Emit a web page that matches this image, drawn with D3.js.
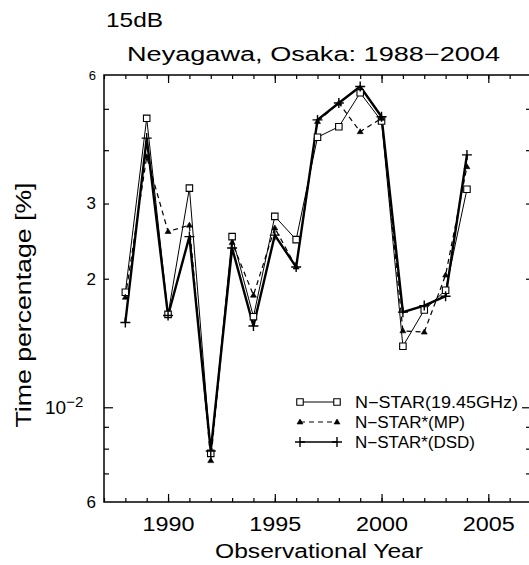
<!DOCTYPE html>
<html>
<head>
<meta charset="utf-8">
<script src="https://cdn.jsdelivr.net/npm/d3@7"></script>
<style>
  body { margin: 0; background: #fff; }
  text { font-family: "Liberation Sans", "DejaVu Sans", sans-serif; fill: #000; }
</style>
</head>
<body>
<div id="chart"></div>
<script>
// data (time percentage, % of year)
let years = [1988, 1989, 1990, 1991, 1992, 1993, 1994, 1995, 1996, 1997, 1998, 1999, 2000, 2001, 2002, 2003, 2004];
let nstar = [0.0186, 0.0475, 0.0165, 0.0326, 0.0078, 0.0251, 0.0163, 0.0280, 0.0247, 0.0429, 0.0454, 0.0545, 0.0468, 0.0139, 0.0169, 0.0188, 0.0324];
let mp    = [0.0181, 0.0386, 0.0258, 0.0267, 0.0075, 0.0243, 0.0183, 0.0263, 0.0213, 0.0467, 0.0516, 0.0442, 0.0475, 0.0151, 0.0150, 0.0204, 0.0366];
let dsd   = [0.0158, 0.0427, 0.0164, 0.0251, 0.0079, 0.0236, 0.0155, 0.0253, 0.0213, 0.0471, 0.0516, 0.0564, 0.0479, 0.0167, 0.0173, 0.0182, 0.0390];

let seriesNames = ["N\u2212STAR(19.45GHz)", "N\u2212STAR*(MP)", "N\u2212STAR*(DSD)"];
let xMajorTicks = [1990, 1995, 2000, 2005];
let yMinorTicks = [0.007, 0.008, 0.009, 0.02, 0.03, 0.04, 0.05];
let yLabelValues = [0.006, 0.01, 0.02, 0.03, 0.06];
let yLabelText = ["6", "10", "2", "3", "6"];

let width = 529,
    height = 565,
    plotLeft = 104, plotRight = 531, plotTop = 75, plotBottom = 502;

let x = d3.scaleLinear().domain([1987, 2007]).range([plotLeft, plotRight]);
let y = d3.scaleLog().domain([0.006, 0.06]).range([plotBottom, plotTop]);

let svg = d3.select("#chart").append("svg")
    .attr("width", width)
    .attr("height", height);

// stretch text to the wide plotter-font widths of the original
function fit(sel, len) {
  sel.attr("textLength", len).attr("lengthAdjust", "spacingAndGlyphs");
}

// titles
svg.append("text")
    .attr("x", 106).attr("y", 27)
    .attr("font-size", 21)
    .call(fit, 57)
    .text("15dB");

svg.append("text")
    .attr("x", 127).attr("y", 61)
    .attr("font-size", 20)
    .call(fit, 373)
    .text("Neyagawa, Osaka:  1988\u22122004");

// frame
svg.append("rect")
    .attr("x", plotLeft).attr("y", plotTop)
    .attr("width", plotRight - plotLeft).attr("height", plotBottom - plotTop)
    .attr("fill", "none").attr("stroke", "#000").attr("stroke-width", 1.5);

function styleAxis(g) {
  g.select(".domain").remove();
  g.selectAll(".tick line").attr("stroke", "#000").attr("stroke-width", 1.2);
}

// x axes (ticks point inward)
svg.append("g").attr("transform", "translate(0," + plotBottom + ")")
    .call(d3.axisBottom(x).tickValues(d3.range(1987, 2008)).tickSize(-4).tickFormat(""))
    .call(styleAxis);
svg.append("g").attr("transform", "translate(0," + plotBottom + ")")
    .call(d3.axisBottom(x).tickValues(xMajorTicks).tickSize(-8).tickPadding(15).tickFormat(d3.format("d")))
    .call(styleAxis)
    .selectAll("text")
    .attr("font-size", 19.5)
    .attr("font-family", "Liberation Sans, DejaVu Sans, sans-serif")
    .call(fit, 52);
svg.append("g").attr("transform", "translate(0," + plotTop + ")")
    .call(d3.axisTop(x).tickValues(d3.range(1987, 2008)).tickSize(-4).tickFormat(""))
    .call(styleAxis);
svg.append("g").attr("transform", "translate(0," + plotTop + ")")
    .call(d3.axisTop(x).tickValues(xMajorTicks).tickSize(-8).tickFormat(""))
    .call(styleAxis);

// y axes
svg.append("g").attr("transform", "translate(" + plotLeft + ",0)")
    .call(d3.axisLeft(y).tickValues(yMinorTicks).tickSize(-5).tickFormat(""))
    .call(styleAxis);
svg.append("g").attr("transform", "translate(" + plotLeft + ",0)")
    .call(d3.axisLeft(y).tickValues([0.01]).tickSize(-9).tickFormat(""))
    .call(styleAxis);
svg.append("g").attr("transform", "translate(" + plotRight + ",0)")
    .call(d3.axisRight(y).tickValues(yMinorTicks).tickSize(-5).tickFormat(""))
    .call(styleAxis);
svg.append("g").attr("transform", "translate(" + plotRight + ",0)")
    .call(d3.axisRight(y).tickValues([0.01]).tickSize(-9).tickFormat(""))
    .call(styleAxis);

let yLab = svg.append("g").attr("transform", "translate(" + plotLeft + ",0)")
    .call(d3.axisLeft(y).tickValues(yLabelValues).tickSize(0).tickPadding(8)
      .tickFormat((d, i) => yLabelText[i]))
    .call(styleAxis);
yLab.selectAll("text")
    .attr("font-size", (d, i) => i === yLabelValues.length - 1 ? 13 : 17)
    .attr("font-family", "Liberation Sans, DejaVu Sans, sans-serif");
yLab.selectAll("text").filter((d) => d === 0.01)
    .attr("x", -59)
    .attr("font-size", 19)
    .attr("text-anchor", "start")
    .append("tspan")
    .attr("dy", "-0.45em")
    .attr("font-size", 15)
    .text("\u22122");

// axis titles
svg.append("text")
    .attr("transform", "translate(31,305) rotate(-90)")
    .attr("text-anchor", "middle")
    .attr("font-size", 22)
    .call(fit, 245)
    .text("Time percentage [%]");

svg.append("text")
    .attr("x", 319).attr("y", 558)
    .attr("text-anchor", "middle")
    .attr("font-size", 20)
    .call(fit, 208)
    .text("Observational Year");

// lines
let line = d3.line()
    .x((d, i) => x(years[i]))
    .y((d) => y(d));

let plot = svg.append("g");

plot.append("path").datum(nstar)
    .attr("d", line).attr("fill", "none")
    .attr("stroke", "#000").attr("stroke-width", 1);
plot.append("path").datum(mp)
    .attr("d", line).attr("fill", "none")
    .attr("stroke", "#000").attr("stroke-width", 1.2)
    .attr("stroke-dasharray", "5,4");
plot.append("path").datum(dsd)
    .attr("d", line).attr("fill", "none")
    .attr("stroke", "#000").attr("stroke-width", 2.4);

let squarePath = d3.symbol().type(d3.symbolSquare).size(42);
let trianglePath = "M-3,2L3,2L0,-3Z";
let plusPath = "M-5,0H5M0,-5V5";

function styleMarker(sel, kind) {
  if (kind === "square") {
    sel.attr("d", squarePath).attr("fill", "#fff").attr("stroke", "#000").attr("stroke-width", 1.1);
  } else if (kind === "triangle") {
    sel.attr("d", trianglePath).attr("fill", "#000").attr("stroke", "#000").attr("stroke-width", 0.6);
  } else {
    sel.attr("d", plusPath).attr("fill", "none").attr("stroke", "#000").attr("stroke-width", 1.4);
  }
}

function drawMarkers(g, data, kind) {
  let sel = g.selectAll(null).data(data).enter().append("path")
      .attr("transform", (d, i) => "translate(" + x(years[i]) + "," + y(d) + ")");
  styleMarker(sel, kind);
}

drawMarkers(plot, nstar, "square");
drawMarkers(plot, mp, "triangle");
drawMarkers(plot, dsd, "plus");

// legend
let kinds = ["square", "triangle", "plus"];
let legendWidths = [163, 110, 120];
let legend = svg.append("g").attr("transform", "translate(300,402)");
seriesNames.forEach((name, i) => {
  let row = legend.append("g").attr("transform", "translate(0," + i * 20 + ")");
  row.append("line")
    .attr("x1", 0).attr("x2", 37)
    .attr("stroke", "#000")
    .attr("stroke-width", i === 2 ? 1.4 : 1)
    .attr("stroke-dasharray", i === 1 ? "5,4" : null);
  styleMarker(row.selectAll(null).data([0, 37]).enter().append("path")
    .attr("transform", (d) => "translate(" + d + ",0)"), kinds[i]);
  row.append("text")
    .attr("x", 55).attr("y", 6)
    .attr("font-size", 16)
    .call(fit, legendWidths[i])
    .text(name);
});
</script>
</body>
</html>
